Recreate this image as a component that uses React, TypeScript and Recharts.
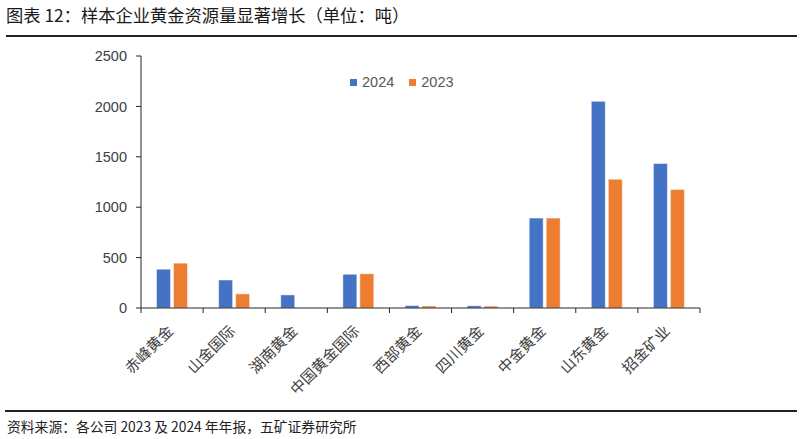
import React from 'react';
import { BarChart, Bar, XAxis, YAxis } from 'recharts';

// 样本企业黄金资源量（吨）
const companies = ['赤峰黄金', '山金国际', '湖南黄金', '中国黄金国际', '西部黄金', '四川黄金', '中金黄金', '山东黄金', '招金矿业'];
const reserves2024 = [385, 278, 130, 335, 24, 22, 892, 2050, 1433];
const reserves2023 = [445, 140, 0, 340, 20, 19, 892, 1278, 1175];
const yTicks = [0, 500, 1000, 1500, 2000, 2500];
const seriesNames = ['2024', '2023'];
const seriesColors = ['#4472C4', '#ED7D31'];

const titleText = '图表 12：样本企业黄金资源量显著增长（单位：吨）';
const sourceText = '资料来源：各公司 2023 及 2024 年年报，五矿证券研究所';

const data = companies.map((name, i) => ({
  name,
  v2024: reserves2024[i],
  v2023: reserves2023[i],
}));

const W = 803;
const H = 439;
const margin = { top: 56, right: 103, left: 81, bottom: 31 };
const Y_AXIS_W = 60;
const BAND = (W - margin.left - Y_AXIS_W - margin.right) / companies.length;
const CJK = '"Noto Sans CJK SC", "Noto Sans", sans-serif';
const AXIS_COLOR = '#262626';

const CategoryTick = (props: any) => {
  const { x, y, payload, index } = props;
  return (
    <g>
      <line x1={x - BAND / 2} y1={y} x2={x - BAND / 2} y2={y + 5} stroke={AXIS_COLOR} />
      {index === companies.length - 1 && (
        <line x1={x + BAND / 2} y1={y} x2={x + BAND / 2} y2={y + 5} stroke={AXIS_COLOR} />
      )}
      <text
        transform={`translate(${x + 2},${y + 24}) rotate(-45)`}
        textAnchor="end"
        fontSize={15}
        fill="#404040"
        fontFamily={CJK}
      >
        {payload.value}
      </text>
    </g>
  );
};

export default function App() {
  return (
    <div style={{ position: 'absolute', left: 0, top: 0, width: W, height: H, background: '#fff', fontFamily: CJK }}>
      <div style={{ position: 'absolute', left: 6, top: 2, fontSize: 17.3, color: '#1a1a1a', whiteSpace: 'nowrap' }}>
        {titleText}
      </div>
      <div style={{ position: 'absolute', left: 6, top: 35, width: 791, height: 2, background: '#222' }} />

      <BarChart
        width={W}
        height={H}
        data={data}
        margin={margin}
        barCategoryGap="25%"
        barGap={3}
      >
        <XAxis
          dataKey="name"
          interval={0}
          tickLine={false}
          tickSize={0}
          tickMargin={0}
          height={100}
          axisLine={{ stroke: AXIS_COLOR }}
          tick={<CategoryTick />}
        />
        <YAxis
          width={Y_AXIS_W}
          domain={[0, 2500]}
          ticks={yTicks}
          tickSize={5}
          tickMargin={9}
          axisLine={{ stroke: AXIS_COLOR }}
          tickLine={{ stroke: AXIS_COLOR }}
          tick={{ fontSize: 14.5, fill: '#404040', fontFamily: '"Liberation Sans", Arial, sans-serif' }}
        />
        <Bar dataKey="v2024" name={seriesNames[0]} fill={seriesColors[0]} stroke="#ffffff" strokeOpacity={0.5} strokeWidth={1} isAnimationActive={false} />
        <Bar dataKey="v2023" name={seriesNames[1]} fill={seriesColors[1]} stroke="#ffffff" strokeOpacity={0.5} strokeWidth={1} isAnimationActive={false} />
      </BarChart>

      <div style={{ position: 'absolute', left: 350, top: 74, display: 'flex', alignItems: 'center', fontSize: 14.5, color: '#595959', fontFamily: '"Liberation Sans", Arial, sans-serif' }}>
        {seriesNames.map((s, i) => (
          <div key={s} style={{ display: 'flex', alignItems: 'center', marginRight: i === 0 ? 15 : 0 }}>
            <span style={{ display: 'inline-block', width: 7, height: 7, background: seriesColors[i], marginRight: 5 }} />
            <span>{s}</span>
          </div>
        ))}
      </div>

      <div style={{ position: 'absolute', left: 5, top: 410, width: 792, height: 2, background: '#222' }} />
      <div style={{ position: 'absolute', left: 7, top: 416, fontSize: 13.8, color: '#222', whiteSpace: 'nowrap' }}>
        {sourceText}
      </div>
    </div>
  );
}
